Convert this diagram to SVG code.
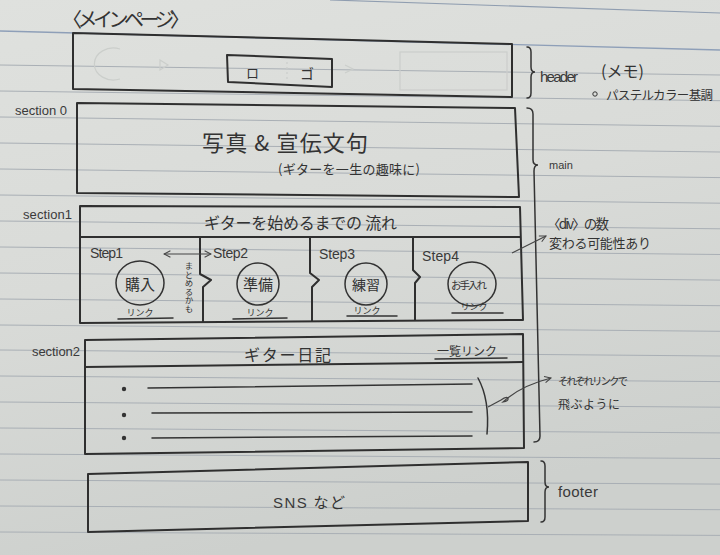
<svg xmlns="http://www.w3.org/2000/svg" width="720" height="555" viewBox="0 0 720 555">
<defs>
<linearGradient id="paper" x1="0" y1="0" x2="0.3" y2="1">
<stop offset="0" stop-color="#dfe1de"/>
<stop offset="0.5" stop-color="#d9dbd8"/>
<stop offset="1" stop-color="#cdd0cd"/>
</linearGradient>
<marker id="open" viewBox="0 0 10 10" refX="9" refY="5" markerWidth="8" markerHeight="8" orient="auto-start-reverse" markerUnits="userSpaceOnUse">
<path d="M1,1 L9,5 L1,9" fill="none" stroke="#444" stroke-width="1.3"/>
</marker>
<style>
.rule{stroke:#a9afb5;stroke-width:1;fill:none}
.box{fill:none;stroke:#2f2f2f;stroke-width:2;stroke-linejoin:round}
.thin{fill:none;stroke:#333;stroke-width:1.5;stroke-linecap:round}
.ghost{fill:none;stroke:#cbcecb;stroke-width:1.2}
.jp{font-family:"Noto Sans CJK JP","Noto Sans",sans-serif;fill:#333}
.lat{font-family:"Liberation Sans","DejaVu Sans",sans-serif;fill:#3a3a3a}
.conn{fill:none;stroke:#444;stroke-width:1.2}
</style>
</defs>
<rect width="720" height="555" fill="url(#paper)"/>
<g id="paper-lines">
<line x1="330" y1="0" x2="720" y2="13" stroke="#8f9db0" stroke-width="1.2"/>
<line x1="0" y1="31" x2="720" y2="50" stroke="#8e9fb8" stroke-width="1.4"/>
<line class="rule" x1="0" y1="65" x2="720" y2="75"/>
<line class="rule" x1="0" y1="91" x2="720" y2="100.7"/>
<line class="rule" x1="0" y1="117" x2="720" y2="126.3"/>
<line class="rule" x1="0" y1="143" x2="720" y2="152"/>
<line class="rule" x1="0" y1="169" x2="720" y2="177.6"/>
<line class="rule" x1="0" y1="195" x2="720" y2="203.2"/>
<line class="rule" x1="0" y1="221" x2="720" y2="228.8"/>
<line class="rule" x1="0" y1="247" x2="720" y2="254.5"/>
<line class="rule" x1="0" y1="273" x2="720" y2="280.1"/>
<line class="rule" x1="0" y1="299" x2="720" y2="305.7"/>
<line class="rule" x1="0" y1="325" x2="720" y2="331.3"/>
<line class="rule" x1="0" y1="350" x2="720" y2="356"/>
<line class="rule" x1="0" y1="376" x2="720" y2="381.6"/>
<line class="rule" x1="0" y1="402" x2="720" y2="407.2"/>
<line class="rule" x1="0" y1="428" x2="720" y2="432.9"/>
<line class="rule" x1="0" y1="454" x2="720" y2="458.5"/>
<line class="rule" x1="0" y1="480" x2="720" y2="484.1"/>
<line class="rule" x1="0" y1="506" x2="720" y2="509.7"/>
<line class="rule" x1="0" y1="532" x2="720" y2="535.4"/>
</g>

<text class="jp" x="62" y="27" font-size="20" textLength="128">〈メインページ〉</text>

<g id="header">
<path class="ghost" d="M120,49 A19,16 0 1,0 120,79"/>
<path class="ghost" d="M160,60 L168,65 L160,70 Z"/>
<path class="ghost" d="M345,65 L353,69 L345,73"/>
<rect class="ghost" x="400" y="52" width="107" height="38"/>
<line class="ghost" x1="287" y1="62" x2="287" y2="80" stroke-dasharray="2 3"/>
<path class="box" d="M73,33 L512,44 L512,97 L73,89 Z"/>
<path class="box" stroke-width="1.7" d="M227,55 L332,59 L332,87 L228,82 Z"/>
<text class="jp" x="246" y="78" font-size="13">ロ</text>
<text class="jp" x="300" y="79" font-size="14">ゴ</text>
</g>

<g id="section0">
<text class="lat" x="15" y="115" font-size="13" textLength="52">section 0</text>
<path class="box" d="M77,103 L515,108 L519,197 L77,193 Z"/>
<text class="jp" x="202" y="151" font-size="22" textLength="166">写真 &amp; 宣伝文句</text>
<text class="jp" x="278" y="174" font-size="13" textLength="142">(ギターを一生の趣味に)</text>
</g>

<g id="section1">
<text class="lat" x="23" y="219" font-size="13" textLength="49">section1</text>
<path class="box" d="M80,206 L520,207 L523,320 L80,323 Z"/>
<line class="box" x1="80" y1="237" x2="520" y2="237"/>
<text class="jp" x="204" y="229" font-size="16" textLength="193">ギターを始めるまでの 流れ</text>
<path class="box" stroke-width="1.7" d="M200,237 L200,274 L211,280 L203,287 L203,322"/>
<path class="box" stroke-width="1.7" d="M310,237 L310,273 L319,280 L312,287 L312,321"/>
<path class="box" stroke-width="1.7" d="M413,237 L413,270 L420,277 L415,283 L415,320"/>
<g id="step1">
<text class="lat" x="90" y="258" font-size="14" textLength="33">Step1</text>
<ellipse class="thin" cx="140" cy="283" rx="24" ry="22"/>
<text class="jp" x="140" y="290" font-size="15" text-anchor="middle">購入</text>
<text class="jp" x="140" y="316" font-size="9" text-anchor="middle">リンク</text>
<line class="thin" x1="118" y1="319" x2="173" y2="318"/>
<text class="jp" x="189" y="262" font-size="8.5" style="writing-mode:vertical-rl">まとめるかも</text>
</g>
<g id="step2">
<text class="lat" x="213" y="258" font-size="14" textLength="35">Step2</text>
<circle class="thin" cx="258" cy="284" r="21"/>
<text class="jp" x="258" y="290" font-size="15" text-anchor="middle">準備</text>
<text class="jp" x="260" y="316" font-size="9" text-anchor="middle">リンク</text>
<line class="thin" x1="233" y1="319" x2="287" y2="318"/>
</g>
<g id="step3">
<text class="lat" x="319" y="259" font-size="14" textLength="36">Step3</text>
<circle class="thin" cx="366" cy="284" r="21"/>
<text class="jp" x="366" y="290" font-size="14" text-anchor="middle">練習</text>
<text class="jp" x="367" y="314" font-size="9" text-anchor="middle">リンク</text>
<line class="thin" x1="347" y1="316" x2="397" y2="316"/>
</g>
<g id="step4">
<text class="lat" x="422" y="261" font-size="14" textLength="37">Step4</text>
<ellipse class="thin" cx="472" cy="284" rx="24" ry="22"/>
<text class="jp" x="469" y="289" font-size="10.5" text-anchor="middle" textLength="36">お手入れ</text>
<text class="jp" x="474" y="310" font-size="9" text-anchor="middle">リンク</text>
<line class="thin" x1="452" y1="313" x2="503" y2="313"/>
</g>
</g>

<g id="section2">
<text class="lat" x="32" y="356" font-size="13" textLength="48">section2</text>
<path class="box" d="M85,340 L523,334 L524,448 L85,454 Z"/>
<line class="box" x1="85" y1="367" x2="523" y2="362"/>
<text class="jp" x="244" y="361" font-size="16" textLength="87">ギター日記</text>
<text class="jp" x="437" y="356" font-size="12" textLength="60">一覧リンク</text>
<line class="thin" x1="435" y1="359" x2="507" y2="358"/>
<circle cx="124" cy="389" r="2.2" fill="#333"/>
<circle cx="124" cy="415" r="2.2" fill="#333"/>
<circle cx="124" cy="438" r="2.2" fill="#333"/>
<line class="thin" x1="148" y1="388" x2="472" y2="384"/>
<line class="thin" x1="152" y1="413" x2="472" y2="412"/>
<line class="thin" x1="152" y1="438" x2="472" y2="436"/>
<path class="thin" d="M478,378 Q490,400 487,434"/>
</g>

<g id="footer">
<path class="box" stroke-width="1.8" d="M88,474 L528,462 L528,521 L88,532 Z"/>
<text class="lat" x="273" y="508" font-size="15" textLength="72">SNS <tspan class="jp">など</tspan></text>
</g>

<g id="notes">
<path class="thin" d="M527,47 Q531,47 531,52 L531,67 Q531,72 535,72 Q531,72 531,77 L531,93 Q531,98 527,98"/>
<text class="lat" x="540" y="82" font-size="15" textLength="38">header</text>
<text class="jp" x="601" y="77" font-size="16" textLength="43">(メモ)</text>
<circle cx="595" cy="94" r="2.2" fill="none" stroke="#333" stroke-width="1"/>
<text class="jp" x="606" y="100" font-size="12.5" textLength="107">パステルカラー基調</text>
<path class="thin" d="M527,108 Q533,108 533,114 L533,160 Q533,165 538,165 Q534,165 534,171 L540,436 Q540,442 534,442"/>
<text class="lat" x="549" y="169" font-size="11">main</text>
<text class="jp" x="547" y="229" font-size="13.5" textLength="62">〈div〉の数</text>
<text class="jp" x="549" y="248" font-size="13" textLength="102">変わる可能性あり</text>
<text class="jp" x="558" y="385" font-size="10.5" textLength="70">それぞれリンクで</text>
<text class="jp" x="558" y="409" font-size="12" textLength="62">飛ぶように</text>
<path class="thin" d="M541,461 Q545,461 545,466 L545,482 Q545,487 549,487 Q545,487 545,492 L545,517 Q545,522 541,522"/>
<text class="lat" x="558" y="497" font-size="15" textLength="40">footer</text>
</g>

<g id="connectors">
<line class="conn" x1="164" y1="254" x2="211" y2="254" marker-start="url(#open)" marker-end="url(#open)"/>
<line class="conn" x1="512" y1="253" x2="546" y2="236" marker-end="url(#open)"/>
<path class="conn" d="M488,407 L501,400 Q506,396 508,398 Q509,401 503,402 Q520,386 551,378" marker-end="url(#open)"/>
</g>
</svg>
